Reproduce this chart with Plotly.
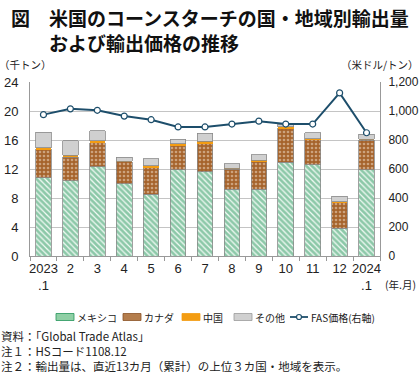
import plotly.graph_objects as go

months = ["2023<br>.1", "2", "3", "4", "5", "6", "7", "8", "9", "10", "11", "12", "2024<br>.1"]
mexico = [10.8, 10.4, 12.3, 10.0, 8.5, 11.9, 11.6, 9.2, 9.2, 12.9, 12.6, 3.8, 11.9]
canada = [3.9, 3.2, 3.3, 3.0, 3.7, 3.3, 3.9, 2.8, 3.9, 4.7, 3.5, 3.6, 4.1]
china = [0.25, 0.3, 0.3, 0.1, 0.25, 0.3, 0.3, 0.1, 0.1, 0.2, 0.1, 0.05, 0.1]
other = [2.1, 2.0, 1.4, 0.55, 0.95, 0.6, 1.1, 0.6, 0.8, 0.4, 0.8, 0.8, 0.7]
fas_price = [975, 1015, 1005, 965, 940, 890, 890, 910, 930, 910, 910, 1125, 850]
series_names = ["メキシコ", "カナダ", "中国", "その他", "FAS価格(右軸)"]

font = "Noto Sans CJK JP"
num_font = "Liberation Sans, Arial"
x = list(range(len(months)))
edge = dict(color="#8a8a8a", width=0.8)

C_MEX, C_CAN, C_CHN, C_OTH, C_LINE = "#23965a", "#a5632c", "#f39c12", "#d0d0d0", "#1d4e6b"

L, R, T, B = 30, 40, 82, 119
PW, PH = 420 - L - R, 375 - T - B


def px_x(px):
    return (px - L) / PW


def px_y(py):
    return (375 - B - py) / PH


fig = go.Figure()
fig.add_trace(go.Bar(x=x, y=mexico, name=series_names[0], width=0.58,
                     marker=dict(color="white", line=edge,
                                 pattern=dict(shape="\\", fgcolor=C_MEX, bgcolor="#f4fbf6", size=4, solidity=0.7))))
fig.add_trace(go.Bar(x=x, y=canada, name=series_names[1], width=0.58,
                     marker=dict(color=C_CAN, line=edge,
                                 pattern=dict(shape=".", fgcolor="#f3e3cf", bgcolor=C_CAN, size=4, solidity=0.35))))
fig.add_trace(go.Bar(x=x, y=china, name=series_names[2], width=0.58,
                     marker=dict(color=C_CHN, line=dict(width=0))))
fig.add_trace(go.Bar(x=x, y=other, name=series_names[3], width=0.58,
                     marker=dict(color=C_OTH, line=edge)))
fig.add_trace(go.Scatter(x=x, y=fas_price, name=series_names[4], yaxis="y2",
                         mode="lines+markers",
                         line=dict(color=C_LINE, width=2),
                         marker=dict(color="white", size=6, line=dict(color=C_LINE, width=1.2))))

fig.update_layout(
    barmode="stack",
    width=420, height=375,
    margin=dict(l=L, r=R, t=T, b=B, autoexpand=False),
    paper_bgcolor="white", plot_bgcolor="white",
    font=dict(family=font, size=12, color="#222"),
    showlegend=False,
    xaxis=dict(tickmode="array", tickvals=x, ticktext=months, range=[-0.5, 12.5],
               showline=True, linecolor="#999", ticks="", showgrid=False,
               tickfont=dict(size=13, family=num_font)),
    yaxis=dict(range=[0, 24], dtick=4, showgrid=True, gridcolor="#c4c4c4",
               showline=True, linecolor="#999", ticks="", ticklabelstandoff=8,
               tickfont=dict(size=13, family=num_font)),
    yaxis2=dict(range=[0, 1200], dtick=200, overlaying="y", side="right",
                showgrid=False, showline=True, linecolor="#999", ticks="", ticklabelstandoff=5,
                tickformat=",", tickfont=dict(size=12, family=num_font)),
)

fig.update_xaxes(minor=dict(tickvals=[i + 0.5 for i in range(-1, 13)], ticks="outside",
                            ticklen=4, tickcolor="#999"))

# Title
fig.add_annotation(text="<b>図　米国のコーンスターチの国・地域別輸出量<br>　　および輸出価格の推移</b>",
                   xref="paper", yref="paper", x=px_x(9), y=px_y(2),
                   xanchor="left", yanchor="top", align="left", showarrow=False,
                   font=dict(size=19, family=font, color="#111"))
# Axis unit labels
fig.add_annotation(text="（千トン）", xref="paper", yref="paper", x=px_x(-3), y=px_y(64),
                   xanchor="left", yanchor="middle", showarrow=False, font=dict(size=10.5, family=font))
fig.add_annotation(text="（米ドル/トン）", xref="paper", yref="paper", x=px_x(421), y=px_y(64),
                   xanchor="right", yanchor="middle", showarrow=False, font=dict(size=10.5, family=font))
fig.add_annotation(text="(年.月)", xref="paper", yref="paper", x=px_x(383), y=px_y(284),
                   xanchor="left", yanchor="middle", showarrow=False, font=dict(size=10.5, family=font))

# Custom legend
ly = 317
sw_x = [56, 123, 182, 234]
sw_fill = ["#8fcfa5", "#b47d4c", C_CHN, C_OTH]
sw_line = [C_MEX, "#8a5224", C_CHN, "#9a9a9a"]
for i in range(4):
    fig.add_shape(type="rect", xref="paper", yref="paper",
                  x0=px_x(sw_x[i]), x1=px_x(sw_x[i] + 18), y0=px_y(ly + 3.5), y1=px_y(ly - 3.5),
                  fillcolor=sw_fill[i], line=dict(color=sw_line[i], width=0.8))
    fig.add_annotation(text=series_names[i], xref="paper", yref="paper", x=px_x(sw_x[i] + 19), y=px_y(ly),
                       xanchor="left", yanchor="middle", showarrow=False, font=dict(size=10, family=font))
fig.add_shape(type="line", xref="paper", yref="paper", x0=px_x(290), x1=px_x(308), y0=px_y(ly), y1=px_y(ly),
              line=dict(color=C_LINE, width=1.8))
fig.add_shape(type="circle", xref="paper", yref="paper", x0=px_x(296.5), x1=px_x(301.5),
              y0=px_y(ly + 2.5), y1=px_y(ly - 2.5), fillcolor="white", line=dict(color=C_LINE, width=1.2))
fig.add_annotation(text=series_names[4], xref="paper", yref="paper", x=px_x(309), y=px_y(ly),
                   xanchor="left", yanchor="middle", showarrow=False, font=dict(size=10, family=font))

# Notes
notes = ["資料：「Global Trade Atlas」", "注１：HSコード1108.12", "注２：輸出量は、直近13カ月（累計）の上位３カ国・地域を表示。"]
fig.add_annotation(text="<br>".join(notes), xref="paper", yref="paper", x=px_x(0), y=px_y(375),
                   xanchor="left", yanchor="bottom", align="left", showarrow=False, borderpad=0,
                   font=dict(size=11.5, family=font))

fig.write_html("out.html", config={"displayModeBar": False},
               post_script="document.body.style.margin='0';document.body.style.overflow='hidden';")
